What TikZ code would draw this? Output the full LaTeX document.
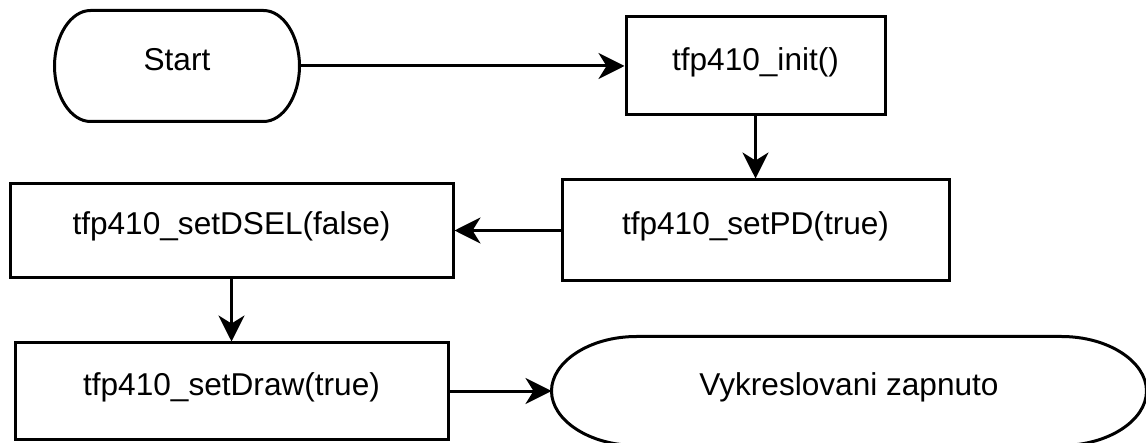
\documentclass[tikz,border=0pt]{standalone}
\usepackage{fontspec}
\setmainfont{Liberation Sans}
\usetikzlibrary{arrows.meta}

% terminal outline round a named node: straight top and bottom, half-ellipse ends
\newcommand{\drawterm}[3]{%
  \draw ([xshift=#2]#1.north west) -- ([xshift=-#2]#1.north east)
    .. controls ([xshift={-0.4477*#2}]#1.north east) and ([yshift={0.5523*#3}]#1.east) .. (#1.east)
    .. controls ([yshift={-0.5523*#3}]#1.east) and ([xshift={-0.4477*#2}]#1.south east) .. ([xshift=-#2]#1.south east)
    -- ([xshift=#2]#1.south west)
    .. controls ([xshift={0.4477*#2}]#1.south west) and ([yshift={-0.5523*#3}]#1.west) .. (#1.west)
    .. controls ([yshift={0.5523*#3}]#1.west) and ([xshift={0.4477*#2}]#1.north west) .. cycle;}

\begin{document}
\begin{tikzpicture}[x=0.5pt,y=-0.5pt,line width=1.5pt,
  >={Stealth[length=13pt,width=13pt,inset=4pt]},
  every node/.style={font=\fontsize{15.8}{19}\selectfont,text height=12pt,text depth=7.5pt,inner sep=0pt},
  box/.style={draw,rectangle},
  term/.style={rectangle}]
\useasboundingbox (0,0) rectangle (1146,443);
\clip (0,0) rectangle (1146,443);
\node[term,minimum width=121pt,minimum height=54pt] (start) at (177,66) {Start};
\node[box,minimum width=129.5pt,minimum height=49pt] (init) at (755.5,66) {tfp410\_init()};
\node[box,minimum width=193.5pt,minimum height=50.5pt] (setpd) at (755.5,230.5) {tfp410\_setPD(true)};
\node[box,minimum width=221.5pt,minimum height=47pt] (setdsel) at (231.5,230.5) {tfp410\_setDSEL(false)};
\node[box,minimum width=216.5pt,minimum height=48pt] (setdraw) at (231.5,391) {tfp410\_setDraw(true)};
\node[term,minimum width=296pt,minimum height=53pt] (done) at (849,391) {Vykreslovani zapnuto};
\drawterm{start}{18pt}{27pt}
\drawterm{done}{42.5pt}{26.5pt}
\draw[->] (start) -- (init);
\draw[->] (init) -- (setpd);
\draw[->] (setpd) -- (setdsel);
\draw[->] (setdsel) -- (setdraw);
\draw[->] (setdraw) -- (done);
\end{tikzpicture}
\end{document}
